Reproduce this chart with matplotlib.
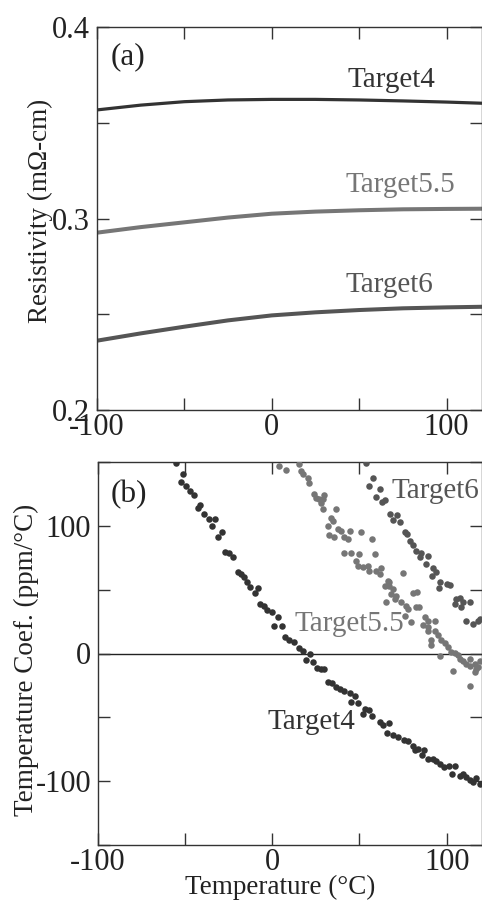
import numpy as np
import matplotlib
matplotlib.use("Agg")
import matplotlib.pyplot as plt
from matplotlib.ticker import FixedLocator

# ── Data ────────────────────────────────────────────────────────────────────
# (a) resistivity vs temperature, smooth curves
T_RES = [-100, -75, -50, -25, 0, 25, 50, 75, 100, 120]
RES_T4 = [0.3567, 0.3592, 0.3610, 0.3619, 0.3622, 0.3622, 0.3619, 0.3614, 0.3608, 0.3602]
RES_T55 = [0.2926, 0.2955, 0.2980, 0.3005, 0.3025, 0.3036, 0.3043, 0.3048, 0.3050, 0.3051]
RES_T6 = [0.2362, 0.2400, 0.2435, 0.2468, 0.2494, 0.2510, 0.2522, 0.2531, 0.2536, 0.2539]

# (b) temperature coefficient, scattered points
TC4_T = [-55.0, -51.1, -52.5, -49.6, -47.3, -44.8, -41.6, -42.9, -39.1, -36.6,
         -32.8, -34.7, -28.9, -30.9, -27.0, -24.7, -22.8, -19.9, -18.0, -16.1,
         -14.8, -12.8, -8.4, -9.8, -7.1, -4.6, -3.3, -0.2, 3.0, 1.1,
         5.6, 7.5, 9.8, 12.6, 15.5, 17.8, 21.7, 19.4, 23.6, 25.5,
         28.0, 29.9, 31.8, 34.3, 36.6, 38.9, 41.4, 44.3, 47.7, 45.2,
         49.0, 52.9, 55.3, 51.9, 57.3, 61.5, 63.4, 66.8, 65.7, 69.1,
         72.0, 75.3, 77.8, 80.6, 83.5, 81.6, 86.8, 86.0, 89.3, 92.1,
         94.1, 96.4, 98.3, 101.3, 104.6, 103.3, 107.5, 109.4, 110.9, 113.2,
         115.1, 117.1, 119.0]
TC4_V = [149.0, 140.4, 134.4, 131.3, 127.3, 124.0, 116.2, 114.3, 109.1, 105.2,
         105.2, 99.5, 95.3, 90.9, 79.7, 79.1, 75.2, 64.1, 62.3, 59.6,
         56.3, 51.8, 51.0, 47.4, 38.8, 37.0, 34.4, 32.8, 28.4, 21.3,
         21.9, 12.7, 10.2, 8.8, 4.1, 1.6, -0.2, -4.7, -6.8, -11.2,
         -12.0, -12.0, -22.4, -23.2, -26.3, -27.6, -29.5, -31.0, -33.6, -38.0,
         -38.8, -43.2, -44.5, -47.1, -49.2, -53.7, -56.3, -54.5, -62.3, -64.1,
         -65.4, -67.4, -68.5, -72.7, -74.5, -75.8, -75.8, -79.7, -82.3, -82.3,
         -84.1, -86.7, -88.8, -88.3, -88.3, -94.0, -96.1, -94.5, -97.1, -99.2,
         -100.5, -97.9, -102.3]

TC55_T = [4.0, 7.9, 15.5, 16.5, 17.4, 20.3, 21.3, 24.1, 25.1, 27.0,
          28.9, 29.9, 28.0, 28.9, 36.6, 33.7, 34.7, 31.8, 37.5, 39.5,
          44.3, 32.8, 35.6, 41.4, 43.3, 51.0, 57.3, 41.4, 45.2, 50.0,
          58.9, 48.1, 49.0, 51.9, 54.8, 55.7, 59.6, 62.5, 61.5, 74.9,
          66.3, 64.4, 67.2, 67.2, 69.1, 68.2, 71.1, 65.3, 70.1, 74.0,
          76.8, 80.6, 82.9, 77.8, 82.6, 84.1, 75.9, 79.7, 87.4, 89.3,
          93.1, 86.4, 89.3, 89.3, 93.1, 91.2, 91.2, 95.0, 97.0, 98.9,
          100.7, 96.0, 102.7, 104.6, 106.5, 107.5, 109.4, 111.3, 113.2, 116.1,
          118.0, 113.2, 103.6, 116.1, 113.6, 117.1, 119.0]
TC55_V = [146.9, 143.8, 148.2, 143.0, 140.4, 137.7, 133.8, 124.8, 122.1, 120.9,
          121.3, 124.0, 117.7, 113.0, 113.5, 106.5, 103.9, 100.0, 97.9, 96.1,
          96.1, 92.7, 91.6, 91.6, 89.6, 95.3, 89.8, 79.1, 79.1, 78.1,
          77.9, 72.7, 68.8, 68.0, 68.8, 64.8, 64.8, 66.6, 62.3, 62.9,
          57.0, 53.1, 53.1, 55.7, 50.5, 46.6, 45.3, 40.1, 42.7, 40.1,
          37.5, 47.4, 47.9, 34.9, 36.7, 36.2, 29.7, 24.5, 28.4, 25.8,
          25.2, 22.7, 20.5, 17.4, 18.0, 10.7, 7.0, 14.1, 10.7, 8.0,
          4.9, -1.6, 1.0, 0.2, -0.8, -4.1, -6.0, -8.0, -9.4, -8.0,
          -10.2, -4.1, -13.8, -14.6, -25.8, -12.0, -5.5]

TC6_T = [53.8, 57.6, 55.3, 61.5, 59.6, 63.0, 64.4, 67.6, 71.4, 69.1,
         73.0, 75.9, 77.2, 79.1, 80.6, 82.2, 85.5, 89.3, 84.5, 87.9,
         92.1, 94.1, 91.8, 96.0, 100.2, 101.7, 95.6, 105.6, 107.5, 104.6,
         109.4, 113.2, 108.4, 111.3, 115.1, 118.0, 119.0]
TC6_V = [149.5, 137.7, 131.3, 128.9, 122.7, 118.8, 120.3, 109.5, 108.8, 104.3,
         103.1, 95.3, 93.5, 88.3, 84.9, 80.5, 78.7, 76.0, 75.2, 70.1,
         66.6, 63.5, 60.9, 56.3, 54.5, 53.7, 51.0, 42.7, 43.2, 38.8,
         40.1, 40.1, 36.2, 25.8, 23.2, 25.8, 27.1]

C_T4 = "#333333"
C_T55 = "#767676"
C_T6 = "#555555"

plt.rcParams.update({
    "font.family": ["Liberation Serif", "DejaVu Serif"],
    "font.size": 21,
    "axes.linewidth": 1.0,
    "axes.edgecolor": "#333333",
    "xtick.color": "#333333",
    "ytick.color": "#333333",
    "xtick.labelcolor": "#222222",
    "ytick.labelcolor": "#222222",
})


def style_axis(ax, yticks, ylabels, yminor):
    ax.set_xlim(-100, 120)
    ax.xaxis.set_major_locator(FixedLocator([-100, 0, 100]))
    ax.xaxis.set_minor_locator(FixedLocator([-50, 50]))
    ax.set_xticklabels(["-100", "0", "100"])
    ax.yaxis.set_major_locator(FixedLocator(yticks))
    ax.yaxis.set_minor_locator(FixedLocator(yminor))
    ax.set_yticklabels(ylabels)
    ax.tick_params(which="both", direction="in", top=True, right=True,
                   length=8.5, width=1.0)
    ax.tick_params(which="major", labelsize=22)
    ax.tick_params(axis="x", pad=2)
    ax.tick_params(axis="y", pad=5)


fig = plt.figure(figsize=(4.82, 9.02), dpi=100)
ax1 = fig.add_axes([97 / 482, 492 / 902, 384.5 / 482, 383 / 902])
ax2 = fig.add_axes([98 / 482, 57 / 902, 383.5 / 482, 383 / 902])

# (a)
ax1.plot(T_RES, RES_T4, color=C_T4, lw=2.3)
ax1.plot(T_RES, RES_T55, color=C_T55, lw=2.9)
ax1.plot(T_RES, RES_T6, color=C_T6, lw=2.9)
ax1.set_ylim(0.2, 0.4)
style_axis(ax1, [0.2, 0.3, 0.4], ["0.2", "0.3", "0.4"], [0.25, 0.35])
ax1.set_ylabel("Resistivity (mΩ-cm)", fontsize=19.5, color="#222222")
ax1.yaxis.set_label_coords(-0.115, 0.52)
ax1.text(-92.4, 0.3807, "(a)", fontsize=22.5, color="#222222")
ax1.text(43.3, 0.3685, "Target4", fontsize=21, color=C_T4)
ax1.text(42.4, 0.3140, "Target5.5", fontsize=21, color=C_T55)
ax1.text(42.4, 0.2618, "Target6", fontsize=21, color=C_T6)

# (b)
ax2.axhline(0, color="#222222", lw=1.0, zorder=1)
ax2.scatter(TC4_T, TC4_V, s=22, color=C_T4, lw=0, zorder=3)
ax2.scatter(TC55_T, TC55_V, s=22, color=C_T55, lw=0, zorder=3)
ax2.scatter(TC6_T, TC6_V, s=22, color=C_T6, lw=0, zorder=3)
ax2.set_ylim(-150, 150)
style_axis(ax2, [-100, 0, 100], ["-100", "0", "100"], [-150, -50, 50, 150])
ax2.set_ylabel("Temperature Coef. (ppm/°C)", fontsize=19.5, color="#222222")
ax2.yaxis.set_label_coords(-0.153, 0.484)
ax2.set_xlabel("Temperature (°C)", fontsize=19.5, color="#222222")
ax2.xaxis.set_label_coords(0.474, -0.078)
ax2.text(-92.7, 118.2, "(b)", fontsize=22.5, color="#222222")
ax2.text(68.2, 122.1, "Target6", fontsize=21, color=C_T6)
ax2.text(12.6, 18.0, "Target5.5", fontsize=21, color=C_T55)
ax2.text(-2.7, -58.8, "Target4", fontsize=21, color=C_T4)

fig.savefig("out.png", dpi=100)
